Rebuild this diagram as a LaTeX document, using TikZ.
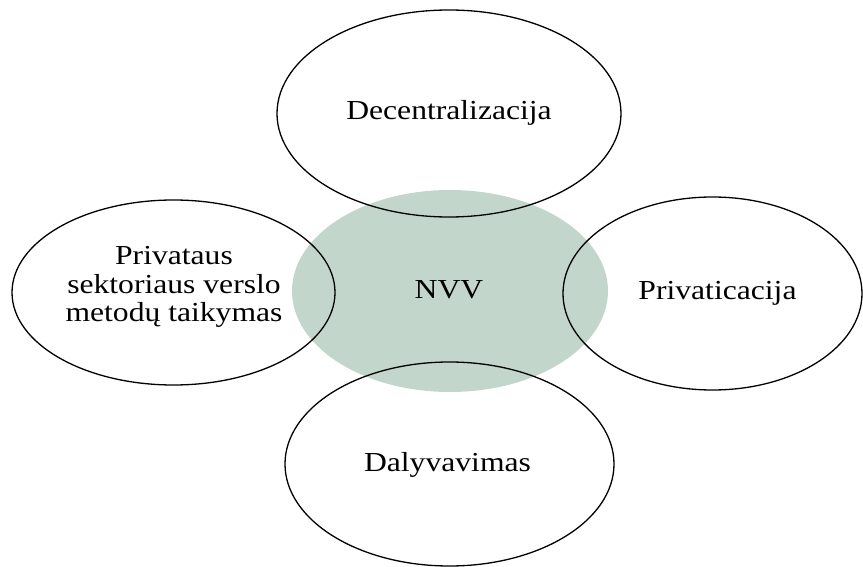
\documentclass[tikz,border=0pt]{standalone}
\usepackage{fontspec}
\setmainfont{Liberation Serif}[FakeStretch=1.15]
\usetikzlibrary{shapes.geometric}
\definecolor{nvvfill}{RGB}{195,214,204}
\tikzset{
  ell/.style={ellipse, draw=black, line width=1.3pt, inner sep=0pt},
  hub/.style={ellipse, fill=nvvfill, draw=none, inner sep=0pt},
  lbl/.style={inner sep=0pt, align=center, font=\fontsize{27.5}{28.5}\selectfont}
}
\begin{document}
\begin{tikzpicture}[x=1pt,y=-1pt]
\useasboundingbox (0,0) rectangle (863,567);
\node[hub, minimum width=316pt, minimum height=202pt] (hub) at (450,291) {};
\node[ell, minimum width=344pt, minimum height=207pt] (top) at (449,113.5) {};
\node[ell, minimum width=323pt, minimum height=185pt] (left) at (173.5,292.5) {};
\node[ell, minimum width=299pt, minimum height=193pt] (right) at (712.5,293.5) {};
\node[ell, minimum width=329pt, minimum height=204pt] (bottom) at (449.5,464) {};
\node[lbl] (tophub) at (449,113) {Decentralizacija};
\node[lbl] (nvv) at (449,289.5) {NVV};
\node[lbl] (lefttxt) at (174,287) {Privataus\\sektoriaus verslo\\metodų taikymas};
\node[lbl] (righttxt) at (717.5,293) {Privaticacija};
\node[lbl] (bottxt) at (447.5,465) {Dalyvavimas};
\end{tikzpicture}
\end{document}
